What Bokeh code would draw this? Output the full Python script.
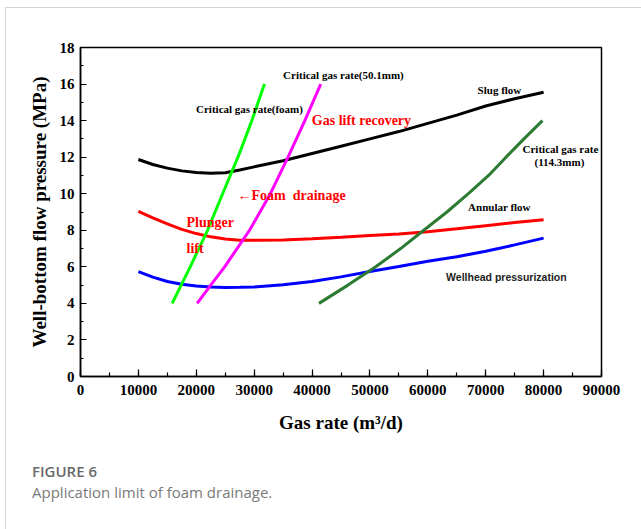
from bokeh.plotting import figure
from bokeh.models import Range1d, Label, FixedTicker, Div
from bokeh.layouts import column
from bokeh.embed import file_html
from bokeh.resources import INLINE

# ---- data ----
gas_rate = [10000, 12500, 15000, 17500, 20000, 22500, 25000, 27500, 30000,
            35000, 40000, 45000, 50000, 55000, 60000, 65000, 70000, 75000, 80000]
slug_flow = [11.87, 11.60, 11.40, 11.25, 11.16, 11.12, 11.15, 11.30, 11.47,
             11.80, 12.20, 12.60, 13.00, 13.40, 13.85, 14.30, 14.80, 15.20, 15.55]
annular_flow = [9.03, 8.68, 8.35, 8.05, 7.82, 7.64, 7.52, 7.46, 7.45,
                7.47, 7.53, 7.62, 7.72, 7.80, 7.92, 8.08, 8.25, 8.42, 8.58]
wellhead = [5.74, 5.44, 5.20, 5.05, 4.95, 4.90, 4.87, 4.88, 4.90,
            5.02, 5.20, 5.45, 5.75, 6.02, 6.30, 6.55, 6.85, 7.20, 7.57]

foam_p = [4, 6, 8, 10, 12, 14, 16]
foam_q = [15840, 18950, 21950, 24550, 27200, 29600, 31780]

c50_p = [4, 5, 6, 8, 10, 12, 14, 16]
c50_q = [20150, 22500, 24900, 29200, 32800, 35850, 38750, 41500]

c114_p = [4, 5, 6, 7, 8, 9, 10, 11, 12, 13, 14]
c114_q = [41200, 46200, 51000, 55300, 59300, 63300, 67000, 70500, 73500, 76600, 79800]

x_ticks = [0, 10000, 20000, 30000, 40000, 50000, 60000, 70000, 80000, 90000]
y_ticks = [0, 2, 4, 6, 8, 10, 12, 14, 16, 18]

# annotation texts
note_texts = ["Critical gas rate(50.1mm)", "Critical gas rate(foam)", "Slug flow",
              "Critical gas rate", "(114.3mm)", "Annular flow"]
note_x = [45420, 29190, 72370, 82900, 82730, 72370]
note_y = [16.52, 14.61, 15.70, 12.47, 11.76, 9.25]

red_texts = ["Gas lift recovery", "\u2190Foam \u00a0drainage", "Plunger", "lift"]
red_x = [48530, 27120, 18310, 18310]
red_y = [14.00, 9.90, 8.42, 7.00]
red_align = ["center", "left", "left", "left"]

caption_title = "FIGURE 6"
caption_text = "Application limit of foam drainage."

SERIF = "Liberation Serif"

p = figure(width=634, height=438, output_backend="svg", toolbar_location=None,
           x_range=Range1d(0, 90000), y_range=Range1d(0, 18),
           min_border_left=74, min_border_right=39, min_border_top=39,
           min_border_bottom=70)
p.background_fill_color = "white"
p.border_fill_color = "white"
p.outline_line_color = "black"
p.outline_line_width = 1.5
p.xgrid.visible = False
p.ygrid.visible = False

for ax in (p.xaxis[0], p.yaxis[0]):
    ax.axis_line_color = "black"
    ax.axis_line_width = 1.5
    ax.major_tick_line_color = "black"
    ax.minor_tick_line_color = "black"
    ax.major_tick_line_width = 1.2
    ax.minor_tick_line_width = 1.2
    ax.major_tick_out = 0
    ax.minor_tick_out = 0
    ax.major_label_text_font = SERIF
    ax.major_label_text_font_style = "bold"
    ax.major_label_text_font_size = "15px"
    ax.major_label_text_color = "black"
    ax.axis_label_text_font = SERIF
    ax.axis_label_text_font_style = "bold"
    ax.axis_label_text_font_size = "19px"
    ax.axis_label_text_color = "black"

p.xaxis[0].ticker = FixedTicker(ticks=x_ticks, minor_ticks=list(range(0, 90001, 5000)))
p.yaxis[0].ticker = FixedTicker(ticks=y_ticks, minor_ticks=list(range(0, 19)))
p.xaxis[0].major_tick_in = 7
p.xaxis[0].minor_tick_in = 4
p.yaxis[0].major_tick_in = 6
p.yaxis[0].minor_tick_in = 3
p.xaxis[0].major_label_standoff = 8
p.yaxis[0].major_label_standoff = 6
p.xaxis[0].axis_label = "Gas rate (m\u00b3/d)"
p.yaxis[0].axis_label = "Well-bottom flow pressure (MPa)"
p.xaxis[0].axis_label_standoff = 14
p.yaxis[0].axis_label_standoff = 7

lw = 3
p.line(gas_rate, slug_flow, line_color="black", line_width=lw)
p.line(gas_rate, annular_flow, line_color="#ff0000", line_width=lw)
p.line(gas_rate, wellhead, line_color="#0000ff", line_width=lw)
p.line(foam_q, foam_p, line_color="#00ff00", line_width=lw)
p.line(c50_q, c50_p, line_color="#ff00ff", line_width=lw)
p.line(c114_q, c114_p, line_color="#2b7b33", line_width=lw)

for t, x, y in zip(note_texts, note_x, note_y):
    p.add_layout(Label(x=x, y=y, text=t, text_font=SERIF, text_font_style="bold",
                       text_font_size="11px", text_color="black",
                       text_align="center", text_baseline="middle"))

for t, x, y, a in zip(red_texts, red_x, red_y, red_align):
    p.add_layout(Label(x=x, y=y, text=t, text_font=SERIF, text_font_style="bold",
                       text_font_size="14px", text_color="#ff0000",
                       text_align=a, text_baseline="middle"))

p.add_layout(Label(x=73570, y=5.47, text="Wellhead pressurization",
                   text_font="Liberation Sans", text_font_style="bold",
                   text_font_size="10.5px", text_color="#222222",
                   text_align="center", text_baseline="middle"))

# caption below the chart
cap = Div(width=634, height=75, text=(
    '<div style="margin-left:21px;padding-top:10px;font-family:\'Open Sans\';'
    'font-size:15px;line-height:21px;font-weight:600;color:#6a6a6a;">'
    + caption_title + '</div>'
    '<div style="margin-left:21px;font-family:\'Open Sans\';font-size:15px;'
    'line-height:21px;color:#7a7a7a;">' + caption_text + '</div>'))

root = column(p, cap, spacing=0)
root.styles = {"border-top": "1px solid #d4d4d4", "border-left": "1px solid #d4d4d4",
               "margin-left": "5px", "margin-top": "7px", "background": "white"}

open("out.html", "w").write(file_html(root, INLINE))
